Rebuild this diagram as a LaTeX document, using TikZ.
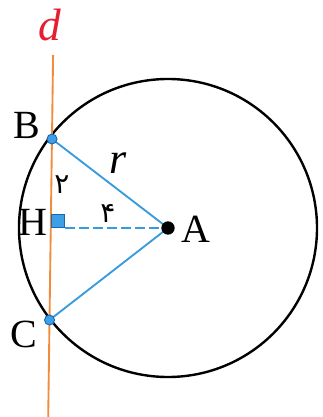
\documentclass[tikz,border=0pt]{standalone}
\usepackage{fontspec}
\setmainfont{Liberation Serif}
\newfontfamily\persianfont[Script=Arabic]{DejaVu Sans}
\usepackage{tikz}
\usetikzlibrary{positioning,calc}
\definecolor{dorange}{RGB}{240,140,60}
\definecolor{segblue}{RGB}{55,155,220}
\definecolor{dotblue}{RGB}{60,160,230}
\definecolor{dotedge}{RGB}{30,100,180}
\definecolor{dred}{RGB}{230,30,50}
\tikzset{
    circleline/.style={
        draw=black,
        line width=1.8pt
    },
    dline/.style={
        draw=dorange,
        line width=1.4pt
    },
    segline/.style={
        draw=segblue,
        line width=1.4pt
    },
    heightline/.style={
        segline,
        dash pattern=on 7.5pt off 3pt
    },
    bluedot/.style={
        circle,
        fill=dotblue,
        draw=dotedge,
        line width=0.7pt,
        minimum size=7.5pt,
        inner sep=0pt
    },
    centerdot/.style={
        circle,
        fill=black,
        minimum size=10pt,
        inner sep=0pt
    },
    rightmark/.style={
        rectangle,
        fill=dotblue,
        draw=dotedge,
        line width=0.7pt,
        minimum size=10pt,
        inner sep=0pt,
        anchor=south west
    },
    ptlabel/.style={
        inner sep=0pt,
        font=\fontsize{30}{34}\selectfont
    },
    digitlabel/.style={
        inner sep=0pt,
        font=\persianfont\fontsize{21}{24}\selectfont
    }
}
\begin{document}
\begin{tikzpicture}[x=0.75pt,y=-0.75pt]
        \useasboundingbox (0,0) rectangle (323,417);

        % Points
        \coordinate (A) at (168,228);
        \coordinate (B) at (52,139);
        \coordinate (C) at (49.5,320);
        \coordinate (H) at (50.7,228);
        \coordinate (dtop) at (53.1,55);
        \coordinate (dbot) at (48.2,417);

        % Circle
        \draw[circleline] (A) circle[radius=111.75pt];

        % Line d
        \draw[dline] (dtop) -- (dbot);

        % Radii and height
        \draw[segline] (B) -- (A) -- (C);
        \node[rightmark] (Hmark) at (H) {};
        \draw[heightline] (Hmark.south east) -- (A);

        % Dots
        \node[bluedot] (Bdot) at (B) {};
        \node[bluedot] (Cdot) at (C) {};
        \node[centerdot] (Adot) at (A) {};

        % Labels
        \node[ptlabel, font=\itshape\fontsize{34}{38}\selectfont, text=dred] (dlabel) at (50,25) {d};
        \node[ptlabel] (Blabel) at (27,125) {B};
        \node[ptlabel] (Hlabel) at (33,222) {H};
        \node[ptlabel] (Alabel) at (196,229) {A};
        \node[ptlabel] (Clabel) at (24,334) {C};
        \node[ptlabel, font=\itshape\fontsize{33}{38}\selectfont] (rlabel) at (118,163) {r};
        \node[digitlabel] (BHlabel) at (62,185) {۲};
        \node[digitlabel] (HAlabel) at (108,213) {۴};
    \end{tikzpicture}
\end{document}
